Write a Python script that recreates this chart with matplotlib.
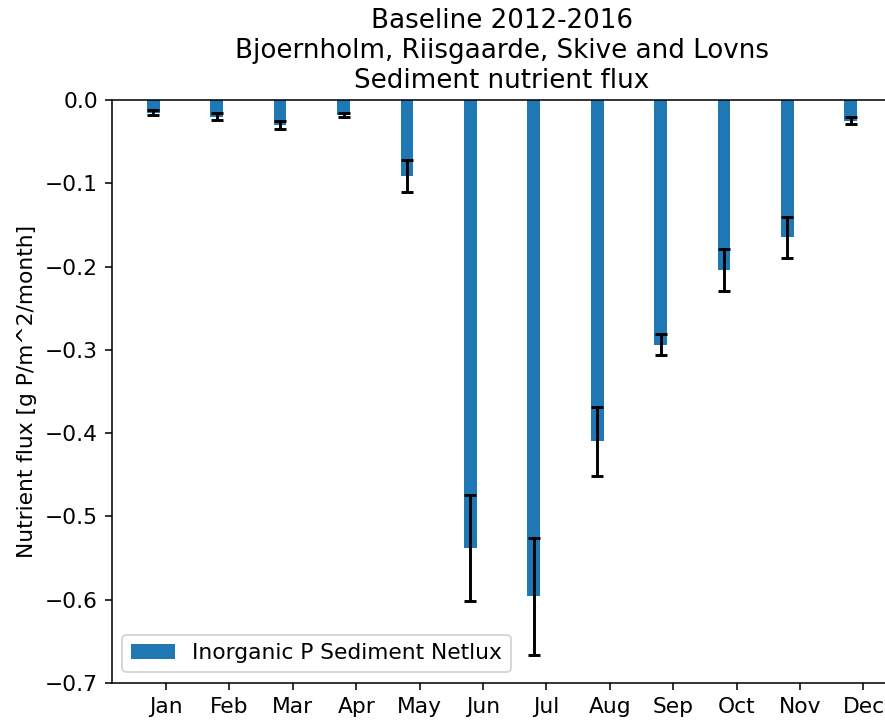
import numpy as np
import matplotlib
matplotlib.use("Agg")
import matplotlib.pyplot as plt

# monthly sediment net flux of inorganic P
months = ['Jan', 'Feb', 'Mar', 'Apr', 'May', 'Jun',
          'Jul', 'Aug', 'Sep', 'Oct', 'Nov', 'Dec']
flux_p = [-0.015, -0.020, -0.030, -0.018, -0.091, -0.538,
          -0.596, -0.410, -0.294, -0.204, -0.165, -0.025]
flux_p_err = [0.003, 0.004, 0.005, 0.0025, 0.019, 0.064,
              0.070, 0.041, 0.0125, 0.0255, 0.0245, 0.004]

plt.rcParams['font.size'] = 11.2

fig = plt.figure(figsize=(885 / 140, 720 / 140), dpi=140)
ax = fig.add_axes([0.1260, 0.0514, 0.8826, 0.8097])

x = np.arange(len(months))
width = 0.2
ax.bar(x - width, flux_p, width, yerr=flux_p_err, capsize=3,
       error_kw=dict(elinewidth=1.5, capthick=1.5, ecolor='black'),
       label='Inorganic P Sediment Netlux')

ax.set_xticks(x)
ax.set_xticklabels(months)
ax.set_ylim(-0.7, 0.0)
ax.set_ylabel('Nutrient flux [g P/m^2/month]')
ax.set_title('Baseline 2012-2016\nBjoernholm, Riisgaarde, Skive and Lovns\nSediment nutrient flux')
ax.legend(loc='lower left')

fig.savefig('out.png', dpi=140)
